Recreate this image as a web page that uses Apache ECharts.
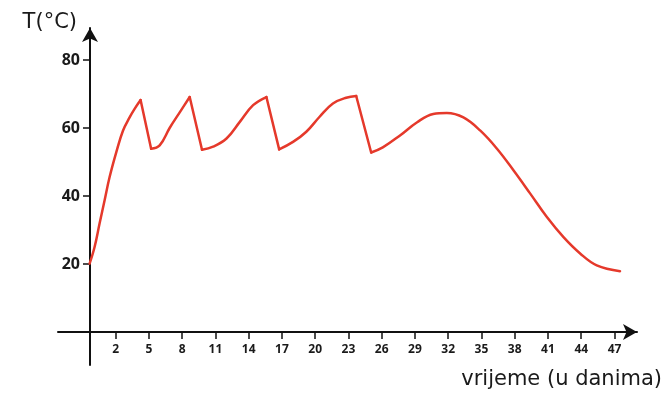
<!DOCTYPE html>
<html>
<head>
<meta charset="utf-8">
<script src="https://cdn.jsdelivr.net/npm/echarts@6/dist/echarts.min.js"></script>
<style>
  html, body { margin: 0; padding: 0; background: #fff; }
  #chart { width: 664px; height: 393px; }
</style>
</head>
<body>
<div id="chart"></div>
<script>
// values (days, temperature in °C)
const days = [-0.35, 0.1, 0.55, 1.0, 1.45, 2.06, 2.66, 3.26, 3.71, 4.25,
  5.2, 5.97, 6.87, 7.78, 8.68,
  9.79, 10.79, 12.0, 13.2, 14.4, 15.6,
  16.75, 18.0, 19.2, 20.4, 21.6, 22.8, 23.7,
  25.05, 26.1, 27.65, 29.2, 30.65, 31.87, 33.37, 34.9, 36.4, 37.9,
  39.4, 40.9, 42.4, 43.9, 45.4, 47.5];
const temps = [20.1, 25.0, 31.9, 38.7, 45.5, 52.9, 59.2, 63.1, 65.6, 68.2,
  53.9, 54.9, 60.0, 64.6, 69.1,
  53.6, 54.5, 56.9, 61.8, 66.7, 69.1,
  53.7, 55.9, 58.9, 63.3, 67.2, 68.9, 69.4,
  52.8, 54.3, 57.8, 61.7, 64.1, 64.4, 63.1, 59.2, 53.9, 47.5,
  40.7, 33.8, 27.9, 23.1, 19.6, 17.9];
// indices of the sharp peaks and troughs (the curve is smooth between them)
const corners = [9, 10, 14, 15, 20, 21, 27, 28];
const dayTicks = [2, 5, 8, 11, 14, 17, 20, 23, 26, 29, 32, 35, 38, 41, 44, 47];
const tempTicks = [20, 40, 60, 80];

const points = days.map((d, i) => [d, temps[i]]);
const bounds = [0, ...corners, days.length - 1];
const segments = [];
for (let k = 0; k < bounds.length - 1; k++) {
  segments.push(points.slice(bounds[k], bounds[k + 1] + 1));
}

const chart = echarts.init(document.getElementById('chart'));

const axisColor = '#111';
const textColor = '#1a1a1a';
const lineColor = '#e5392b';

chart.setOption({
  animation: false,
  backgroundColor: '#fff',
  title: {
    text: 'vrijeme (u danima)',
    right: 2,
    top: 369,
    padding: 0,
    textStyle: {
      fontFamily: 'DejaVu Sans',
      fontSize: 21,
      fontWeight: 'normal',
      color: textColor
    }
  },
  grid: { left: 58, right: 27, top: 28, bottom: 28, containLabel: false, outerBoundsMode: 'none' },
  xAxis: {
    type: 'value',
    min: -3.2,
    max: 49.03,
    axisLine: {
      onZero: true,
      symbol: ['none', 'arrow'],
      symbolSize: [12, 14],
      lineStyle: { color: axisColor, width: 2 }
    },
    axisTick: {
      customValues: dayTicks,
      length: 7,
      lineStyle: { color: axisColor, width: 1.5 }
    },
    axisLabel: {
      customValues: dayTicks,
      margin: -21,
      fontFamily: 'Open Sans',
      fontWeight: 'bold',
      fontSize: 12,
      color: textColor
    },
    splitLine: { show: false }
  },
  yAxis: {
    type: 'value',
    min: -9.7,
    max: 89.4,
    offset: -32,
    name: 'T(°C)',
    nameLocation: 'end',
    nameGap: 5,
    nameTextStyle: {
      fontFamily: 'DejaVu Sans',
      fontSize: 21,
      color: textColor,
      align: 'right',
      verticalAlign: 'middle',
      padding: [0, 13, 0, 0]
    },
    axisLine: {
      onZero: false,
      symbol: ['none', 'arrow'],
      symbolSize: [12, 14],
      lineStyle: { color: axisColor, width: 2 }
    },
    axisTick: {
      customValues: tempTicks,
      length: 7,
      lineStyle: { color: axisColor, width: 1.5 }
    },
    axisLabel: {
      customValues: tempTicks,
      margin: 10,
      fontFamily: 'Open Sans',
      fontWeight: 'bold',
      fontSize: 16,
      color: textColor
    },
    splitLine: { show: false }
  },
  series: segments.map(seg => ({
    type: 'line',
    data: seg,
    smooth: 0.4,
    showSymbol: false,
    lineStyle: { color: lineColor, width: 2.5, join: 'round', cap: 'round' }
  }))
});
</script>
</body>
</html>
